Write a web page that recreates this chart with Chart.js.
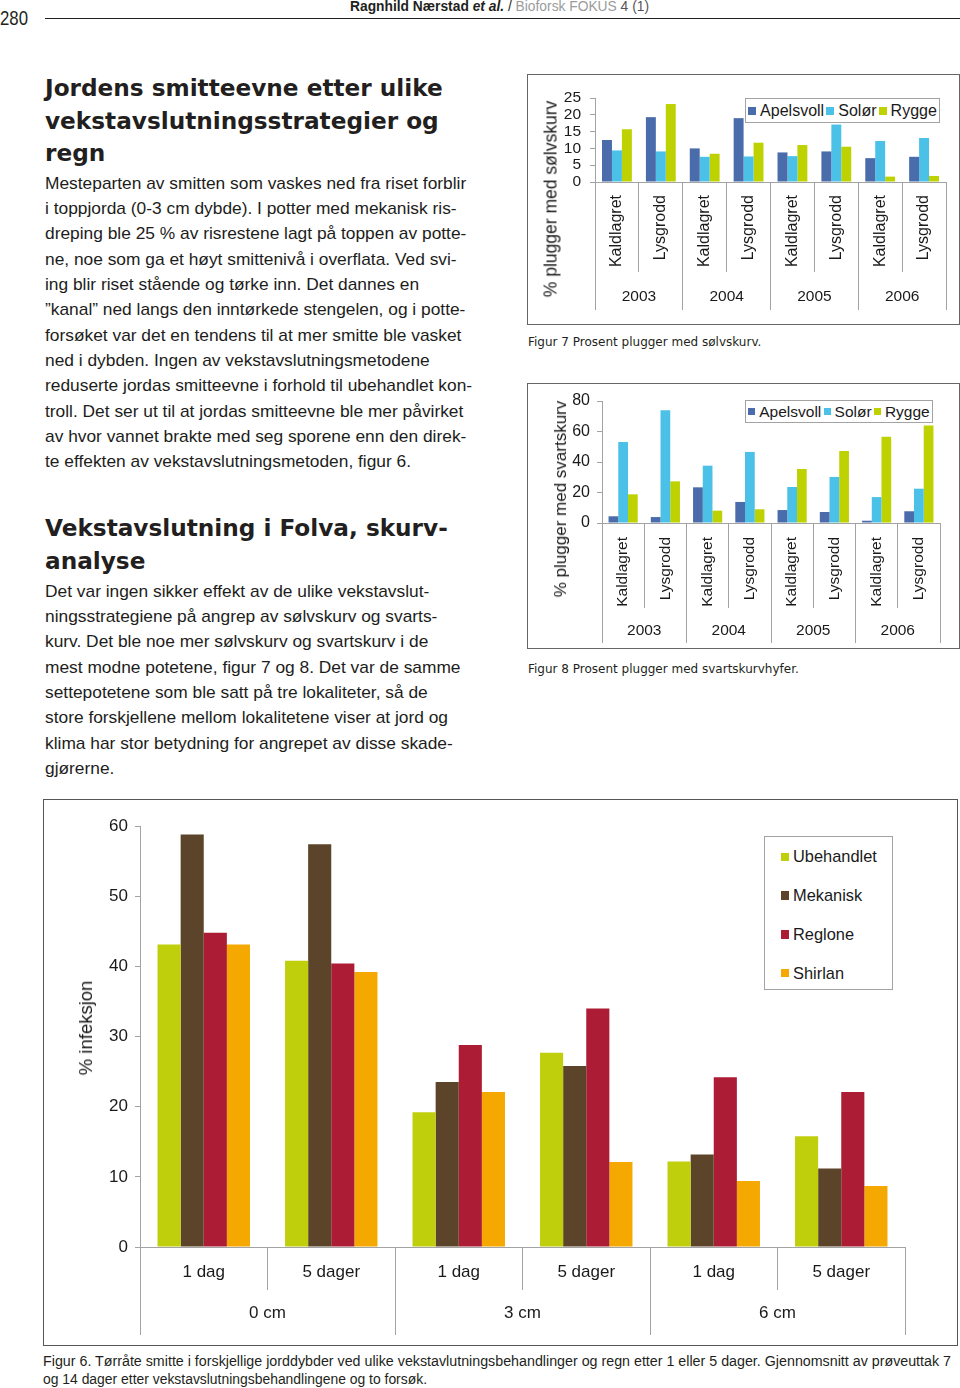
<!DOCTYPE html>
<html lang="no">
<head>
<meta charset="utf-8">
<title>Tørråte og skurv – figur 6, 7 og 8</title>
<script src="https://cdn.jsdelivr.net/npm/chart.js"></script>
<style>
  body { margin: 0; background: #fff; }
  #side { position: relative; width: 960px; height: 1388px; overflow: hidden;
          font-family: "Liberation Sans", Arial, sans-serif; color: #231f20; }
  .t { position: absolute; white-space: nowrap; }
  .tekst { left: 45px; font-size: 17.35px; line-height: 25.35px; color: #1d1d1b; }
  .overskrift { left: 45px; font-family: "DejaVu Sans", sans-serif; font-weight: bold;
                font-size: 23.2px; line-height: 32.6px; color: #231f20; }
  .fit { display: inline-block; transform-origin: 0 50%; }
  .ramme { position: absolute; box-sizing: border-box; border: 1.5px solid #666; }
  .graf { position: absolute; }
  .ytittel { position: absolute; white-space: nowrap; color: #1a1a1a;
             transform: translate(-50%, -50%) rotate(-90deg); }
  .figtekst { position: absolute; white-space: nowrap; font-family: "DejaVu Sans", sans-serif;
              font-size: 12px; color: #231f20; }
  .tegn { position: absolute; box-sizing: border-box; border: 1.5px solid #a3a3a3; background: #fff;
          color: #1a1a1a; }
  .rad { display: flex; align-items: center; justify-content: space-evenly; }
  .post { display: flex; align-items: center; white-space: nowrap; }
  .sym { display: inline-block; margin-right: 4px; }
</style>
</head>
<body>
<div id="side">

  <!-- topptekst -->
  <div class="t" style="left:0;top:5px;font-size:21px;line-height:26px"><span class="fit" id="sidetall">280</span></div>
  <div class="t" style="left:350px;top:-2px;font-size:14px;line-height:16px"><span class="fit" id="topptekst"><b>Ragnhild Nærstad <i>et al.</i></b> / <span style="color:#9b9b9b">Bioforsk FOKUS</span> <span style="color:#555">4 (1)</span></span></div>
  <div style="position:absolute;left:45px;top:18px;width:915px;height:1px;background:#231f20"></div>

  <!-- venstre spalte -->
  <div class="t overskrift" style="top:72px">Jordens smitteevne etter ulike<br>vekstavslutningsstrategier og<br>regn</div>
  <div class="t tekst" style="top:170.7px">Mesteparten av smitten som vaskes ned fra riset forblir<br>i toppjorda (0-3 cm dybde). I potter med mekanisk ris-<br>dreping ble 25 % av risrestene lagt på toppen av potte-<br>ne, noe som ga et høyt smittenivå i overflata. Ved svi-<br>ing blir riset stående og tørke inn. Det dannes en<br>”kanal” ned langs den inntørkede stengelen, og i potte-<br>forsøket var det en tendens til at mer smitte ble vasket<br>ned i dybden. Ingen av vekstavslutningsmetodene<br>reduserte jordas smitteevne i forhold til ubehandlet kon-<br>troll. Det ser ut til at jordas smitteevne ble mer påvirket<br>av hvor vannet brakte med seg sporene enn den direk-<br>te effekten av vekstavslutningsmetoden, figur 6.</div>

  <div class="t overskrift" style="top:512.4px">Vekstavslutning i Folva, skurv-<br>analyse</div>
  <div class="t tekst" style="top:578.5px">Det var ingen sikker effekt av de ulike vekstavslut-<br>ningsstrategiene på angrep av sølvskurv og svarts-<br>kurv. Det ble noe mer sølvskurv og svartskurv i de<br>mest modne potetene, figur 7 og 8. Det var de samme<br>settepotetene som ble satt på tre lokaliteter, så de<br>store forskjellene mellom lokalitetene viser at jord og<br>klima har stor betydning for angrepet av disse skade-<br>gjørerne.</div>

  <!-- figur 7 -->
  <div class="ramme" style="left:527px;top:74px;width:433px;height:251px"></div>
  <div class="graf" style="left:527px;top:74px;width:432px;height:250px"><canvas id="fig7"></canvas></div>
  <div class="ytittel" style="left:551px;top:198.5px;font-size:17.5px">% plugger med sølvskurv</div>
  <div class="tegn rad" id="tegn7" style="left:745px;top:98px;width:195px;height:25px;font-size:16px"></div>
  <div class="figtekst" style="left:528px;top:335px">Figur 7 Prosent plugger med sølvskurv.</div>

  <!-- figur 8 -->
  <div class="ramme" style="left:527px;top:383px;width:433px;height:266px"></div>
  <div class="graf" style="left:527px;top:383px;width:432px;height:265px"><canvas id="fig8"></canvas></div>
  <div class="ytittel" style="left:561px;top:498.5px;font-size:17px">% plugger med svartskurv</div>
  <div class="tegn rad" id="tegn8" style="left:745px;top:400px;width:188px;height:23px;font-size:15.5px"></div>
  <div class="figtekst" style="left:528px;top:662px">Figur 8 Prosent plugger med svartskurvhyfer.</div>

  <!-- figur 6 -->
  <div class="ramme" style="left:43px;top:799px;width:915px;height:547px;border-color:#555"></div>
  <div class="graf" style="left:44px;top:800px;width:913px;height:546px"><canvas id="fig6"></canvas></div>
  <div class="ytittel" style="left:86px;top:1027.5px;font-size:18.5px">% infeksjon</div>
  <div class="tegn" id="tegn6" style="left:764px;top:836px;width:129px;height:154px;font-size:16.4px;padding-top:0.6px"></div>
  <div class="t" style="left:43px;top:1352px;font-size:14px;line-height:18px"><span class="fit" id="fig6a">Figur 6. Tørråte smitte i forskjellige jorddybder ved ulike vekstavlutningsbehandlinger og regn etter 1 eller 5 dager. Gjennomsnitt av prøveuttak 7</span></div>
  <div class="t" style="left:43px;top:1370px;font-size:14px;line-height:18px"><span class="fit" id="fig6b">og 14 dager etter vekstavslutningsbehandlingene og to forsøk.</span></div>
</div>

<script>
// Figur 7 og 8: år, lagring, lokaliteter
const aar = ["2003", "2004", "2005", "2006"];
const lagring = ["Kaldlagret", "Lysgrodd"];
const steder = ["Apelsvoll", "Solør", "Rygge"];
const stedFarger = ["#4a6cab", "#4cc1e8", "#bdd200"];

// % plugger med sølvskurv (Kaldlagret/Lysgrodd for hvert år)
const solvApelsvoll = [12.5, 19.3, 10.0, 19.0, 8.8, 9.1, 7.1, 7.5];
const solvSolor = [9.4, 9.1, 7.5, 7.6, 7.7, 17.1, 12.2, 13.1];
const solvRygge = [15.7, 23.2, 8.4, 11.7, 11.0, 10.5, 1.6, 1.8];

// % plugger med svartskurv
const svartApelsvoll = [4.4, 3.9, 23.4, 13.8, 8.5, 7.2, 1.5, 7.7];
const svartSolor = [53.1, 73.9, 37.6, 46.6, 23.6, 30.2, 17.0, 22.5];
const svartRygge = [18.8, 27.3, 8.1, 9.0, 35.4, 47.2, 56.6, 64.0];

// Figur 6: jorddybde, dager etter behandling, behandlinger
const dybder = ["0 cm", "3 cm", "6 cm"];
const dager = ["1 dag", "5 dager"];
const behandlinger = ["Ubehandlet", "Mekanisk", "Reglone", "Shirlan"];
const behFarger = ["#bfcf0b", "#5b4429", "#ac1c34", "#f4a800"];

// % infeksjon
const ubehandlet = [43.1, 40.8, 19.2, 27.7, 12.2, 15.8];
const mekanisk = [58.8, 57.4, 23.5, 25.8, 13.2, 11.2];
const reglone = [44.8, 40.4, 28.8, 34.0, 24.2, 22.1];
const shirlan = [43.1, 39.2, 22.1, 12.1, 9.4, 8.7];

const aksefarge = "#a3a3a3";
Chart.defaults.font.family = '"Liberation Sans", Arial, sans-serif';
Chart.defaults.color = "#1a1a1a";

const bredde = (px) => (s) => { s.width = px; };
const hoyde = (px) => (s) => { s.height = px; };

function skillelinjer(lengde) {
  return { offset: true, drawOnChartArea: false, tickLength: lengde, color: aksefarge };
}

function stolpegraf(id, o) {
  return new Chart(document.getElementById(id), {
    type: "bar",
    data: { labels: o.labels, datasets: o.datasets },
    options: {
      responsive: true,
      maintainAspectRatio: false,
      animation: false,
      layout: { padding: o.padding },
      datasets: { bar: { barPercentage: 1, categoryPercentage: o.andel, borderWidth: 0 } },
      plugins: { legend: { display: false }, tooltip: { enabled: false } },
      scales: {
        x: {
          type: "category",
          position: "bottom",
          offset: true,
          afterFit: hoyde(o.h1),
          grid: skillelinjer(o.h1),
          border: { color: aksefarge },
          ticks: Object.assign({ autoSkip: false, padding: o.pad1, font: { size: o.f1 } }, o.rot),
        },
        x2: {
          type: "category",
          labels: o.grupper,
          position: "bottom",
          weight: 1,
          offset: true,
          afterFit: hoyde(o.h2),
          grid: skillelinjer(o.h2),
          border: { display: false },
          ticks: { autoSkip: false, maxRotation: 0, padding: o.pad2, font: { size: o.f2 } },
        },
        y: {
          min: 0,
          max: o.ymax,
          afterFit: bredde(o.yb),
          grid: { drawOnChartArea: false, tickLength: 5, color: aksefarge },
          border: { color: aksefarge },
          ticks: { stepSize: o.steg, autoSkip: false, padding: o.ypad, font: { size: o.fy } },
        },
      },
    },
  });
}

const rotert = { minRotation: 90, maxRotation: 90 };

stolpegraf("fig7", {
  labels: aar.flatMap(() => lagring),
  grupper: aar,
  datasets: [
    { label: steder[0], data: solvApelsvoll, backgroundColor: stedFarger[0] },
    { label: steder[1], data: solvSolor, backgroundColor: stedFarger[1] },
    { label: steder[2], data: solvRygge, backgroundColor: stedFarger[2] },
  ],
  padding: { top: 24, right: 13, bottom: 14, left: 0 },
  andel: 0.68, ymax: 25, steg: 5, yb: 68, ypad: 9, fy: 15.5,
  h1: 90, pad1: -77, f1: 16, rot: rotert,
  h2: 38, pad2: -22.3, f2: 15.5,
});

stolpegraf("fig8", {
  labels: aar.flatMap(() => lagring),
  grupper: aar,
  datasets: [
    { label: steder[0], data: svartApelsvoll, backgroundColor: stedFarger[0] },
    { label: steder[1], data: svartSolor, backgroundColor: stedFarger[1] },
    { label: steder[2], data: svartRygge, backgroundColor: stedFarger[2] },
  ],
  padding: { top: 18, right: 19, bottom: 5, left: 0 },
  andel: 0.69, ymax: 80, steg: 20, yb: 75, ypad: 7, fy: 16,
  h1: 85, pad1: -71, f1: 15.5, rot: rotert,
  h2: 35, pad2: -22, f2: 15.5,
});

stolpegraf("fig6", {
  labels: dybder.flatMap(() => dager),
  grupper: dybder,
  datasets: [
    { label: behandlinger[0], data: ubehandlet, backgroundColor: behFarger[0] },
    { label: behandlinger[1], data: mekanisk, backgroundColor: behFarger[1] },
    { label: behandlinger[2], data: reglone, backgroundColor: behFarger[2] },
    { label: behandlinger[3], data: shirlan, backgroundColor: behFarger[3] },
  ],
  padding: { top: 26, right: 52, bottom: 11, left: 0 },
  andel: 0.725, ymax: 60, steg: 10, yb: 96, ypad: 7, fy: 17,
  h1: 43, pad1: -28.2, f1: 17, rot: { maxRotation: 0 },
  h2: 45, pad2: -32.2, f2: 17,
});

// tegnforklaringer
function tegnforklaring(id, navn, farger, sym, stil) {
  const boks = document.getElementById(id);
  navn.forEach((n, i) => {
    const post = document.createElement("div");
    post.className = "post";
    Object.assign(post.style, stil || {});
    post.innerHTML = `<span class="sym" style="width:${sym}px;height:${sym}px;background:${farger[i]}"></span>${n}`;
    boks.appendChild(post);
  });
}
tegnforklaring("tegn7", steder, stedFarger, 8);
tegnforklaring("tegn8", steder, stedFarger, 7);
tegnforklaring("tegn6", behandlinger, behFarger, 8.5, { height: "38.7px", paddingLeft: "15.5px" });

// smal skrift i topptekst og figurtekst
function tilpass(id, px) {
  const el = document.getElementById(id);
  el.style.transform = `scaleX(${px / el.getBoundingClientRect().width})`;
}
tilpass("sidetall", 28);
tilpass("topptekst", 299);
tilpass("fig6a", 908);
tilpass("fig6b", 384);
</script>
</body>
</html>
